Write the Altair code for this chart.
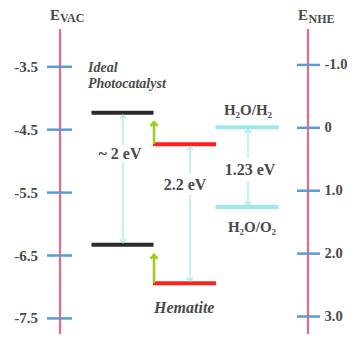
import altair as alt
import pandas as pd

# ---------------- data ----------------
evac_ticks = [-3.5, -4.5, -5.5, -6.5, -7.5]
evac_labels = ["-3.5", "-4.5", "-5.5", "-6.5", "-7.5"]
nhe_ticks = [-1.0, 0.0, 1.0, 2.0, 3.0]
nhe_labels = ["-1.0", "0", "1.0", "2.0", "3.0"]
ideal_levels = [-4.23, -6.33]      # CB, VB (E vs vacuum, eV)
hematite_levels = [-4.73, -6.94]   # CB, VB
water_levels = [-4.46, -5.73]      # H2O/H2, H2O/O2
green_tips = [-4.38, -6.49]        # tips of the green shift arrows
gap_labels = ["~ 2 eV", "2.2 eV", "1.23 eV"]
couple_labels = ["H\u2082O/H\u2082", "H\u2082O/O\u2082"]
name_ideal = ["Ideal", "Photocatalyst"]
name_hematite = "Hematite"

# ---------------- layout helpers ----------------
Y0, K = 192.6, 62.9          # pixel calibration of the energy axis
NHE_OFFSET = 4.47
PAD_TOP = 8                  # view starts at image row 16


def E(py):
    """energy value at a given image pixel row (layout only)"""
    return -5.5 - (py - Y0) / K


FONT = "Liberation Serif"
TXT = "#4a4a4a"
PINK = "#e8688f"
BLUE = "#5b9bd5"
CYAN = "#9beaea"
BLACK = "#2a2a2a"
RED = "#ff1f1f"
GREEN = "#9acd17"

xs = alt.Scale(domain=[8, 347], nice=False, zero=False)
ys = alt.Scale(domain=[E(334), E(8 + PAD_TOP)], nice=False, zero=False)


def enc(**kw):
    out = {}
    for k, v in kw.items():
        if k in ("x", "x2"):
            out[k] = alt.X(v, type="quantitative", scale=xs, axis=None) if k == "x" else alt.X2(v)
        elif k in ("y", "y2"):
            out[k] = alt.Y(v, type="quantitative", scale=ys, axis=None) if k == "y" else alt.Y2(v)
        else:
            out[k] = v
    return out


layers = []

# axis lines
axes_df = pd.DataFrame({"x": [60, 308], "y": [E(29)] * 2, "y2": [E(334)] * 2})
layers.append(alt.Chart(axes_df).mark_rule(color=PINK, strokeWidth=2.2)
              .encode(**enc(x="x", y="y", y2="y2")))

# ticks
tick_rows = [{"x": 47, "x2": 72, "y": v} for v in evac_ticks]
tick_rows += [{"x": 297, "x2": 320, "y": -(v + NHE_OFFSET)} for v in nhe_ticks]
layers.append(alt.Chart(pd.DataFrame(tick_rows)).mark_rule(color=BLUE, strokeWidth=2.5)
              .encode(**enc(x="x", x2="x2", y="y")))

# tick labels
lt = pd.DataFrame({"x": [38] * 5, "y": evac_ticks, "t": evac_labels})
layers.append(alt.Chart(lt).mark_text(font=FONT, fontSize=15, fontWeight="bold", color=TXT,
                                      align="right", baseline="middle")
              .encode(**enc(x="x", y="y"), text="t:N"))
rt = pd.DataFrame({"x": [324.5] * 5, "y": [-(v + NHE_OFFSET) for v in nhe_ticks], "t": nhe_labels})
layers.append(alt.Chart(rt).mark_text(font=FONT, fontSize=14.5, fontWeight="bold", color=TXT,
                                      align="left", baseline="middle")
              .encode(**enc(x="x", y="y"), text="t:N"))

# axis titles
tb = pd.DataFrame({"x": [60, 308], "y": [E(20)] * 2, "t": ["E", "E"]})
layers.append(alt.Chart(tb).mark_text(font=FONT, fontSize=15, fontWeight="bold", color=TXT,
                                      align="right", baseline="alphabetic")
              .encode(**enc(x="x", y="y"), text="t:N"))
ts = pd.DataFrame({"x": [60, 308.5], "y": [E(22), E(22.5)], "t": ["VAC", "NHE"]})
layers.append(alt.Chart(ts).mark_text(font=FONT, fontSize=12, fontWeight="bold", color=TXT,
                                      align="left", baseline="alphabetic")
              .encode(**enc(x="x", y="y"), text="t:N"))

# energy levels
def level_layer(xa, xb, vals, color):
    df = pd.DataFrame({"x": [xa] * len(vals), "x2": [xb] * len(vals), "y": vals})
    return (alt.Chart(df).mark_rule(color=color, strokeWidth=4, strokeCap="butt")
            .encode(**enc(x="x", x2="x2", y="y")))


layers.append(level_layer(91.5, 153.5, ideal_levels, BLACK))
layers.append(level_layer(153, 216, hematite_levels, RED))
layers.append(level_layer(215.5, 278.5, water_levels, CYAN))

# cyan gap arrows (shaft broken around the label)
shafts = []
up_heads = []
down_heads = []
for xa, top, bot, gtop, gbot in [
    (123, ideal_levels[0], ideal_levels[1], 145, 163),
    (190, hematite_levels[0], hematite_levels[1], 174, 195),
    (248, water_levels[0], water_levels[1], 158, 181),
]:
    t = top - 2.2 / K
    b = bot + 2.0 / K
    shafts.append({"x": xa, "y": t, "y2": E(gtop)})
    shafts.append({"x": xa, "y": E(gbot), "y2": b})
    up_heads.append({"x": xa, "y": t})
    down_heads.append({"x": xa, "y": b})
layers.append(alt.Chart(pd.DataFrame(shafts)).mark_rule(color=CYAN, strokeWidth=1.2)
              .encode(**enc(x="x", y="y", y2="y2")))
CHEV = "M -1 1.2 L 0 0 L 1 1.2"
layers.append(alt.Chart(pd.DataFrame(up_heads)).mark_point(shape=CHEV, filled=False, size=36,
                                                           color=CYAN, strokeWidth=1.2, opacity=1)
              .encode(**enc(x="x", y="y")))
layers.append(alt.Chart(pd.DataFrame(down_heads)).mark_point(shape=CHEV, filled=False, size=36, angle=180,
                                                             color=CYAN, strokeWidth=1.2, opacity=1)
              .encode(**enc(x="x", y="y")))

# gap labels
gl = pd.DataFrame({"x": [120, 185, 250], "y": [E(153.5), E(184.5), E(170)], "t": gap_labels})
layers.append(alt.Chart(gl).mark_text(font=FONT, fontSize=16, fontWeight="bold", color=TXT,
                                      align="center", baseline="middle")
              .encode(**enc(x="x", y="y"), text="t:N"))

# green shift arrows
gdf = pd.DataFrame({"x": [154, 154], "y": hematite_levels, "y2": [t - 1.5 / K for t in green_tips]})
layers.append(alt.Chart(gdf).mark_rule(color=GREEN, strokeWidth=2.5, strokeCap="butt")
              .encode(**enc(x="x", y="y", y2="y2")))
ghead = pd.DataFrame({"x": [154, 154], "y": green_tips})
layers.append(alt.Chart(ghead).mark_point(shape="M -1 1.1 L 0 0 L 1 1.1", filled=False, size=49,
                                          color=GREEN, strokeWidth=2.5, opacity=1)
              .encode(**enc(x="x", y="y")))

# couple labels
cl = pd.DataFrame({"x": [248, 252], "y": [E(110), E(227)], "t": couple_labels})
layers.append(alt.Chart(cl).mark_text(font=FONT, fontSize=15, fontWeight="bold", color=TXT,
                                      align="center", baseline="middle")
              .encode(**enc(x="x", y="y"), text="t:N"))

# material names
nl = pd.DataFrame({"x": [88, 88, 154], "y": [E(68), E(84), E(307.5)],
                   "t": name_ideal + [name_hematite]})
layers.append(alt.Chart(nl.iloc[:2]).mark_text(font=FONT, fontSize=14, fontWeight="bold", fontStyle="italic",
                                               color=TXT, align="left", baseline="middle")
              .encode(**enc(x="x", y="y"), text="t:N"))
layers.append(alt.Chart(nl.iloc[2:]).mark_text(font=FONT, fontSize=16, fontWeight="bold", fontStyle="italic",
                                               color=TXT, align="left", baseline="middle")
              .encode(**enc(x="x", y="y"), text="t:N"))

chart = (alt.layer(*layers)
         .properties(width=339, height=326 - PAD_TOP, background="white",
                     padding={"left": 0, "top": PAD_TOP, "right": 0, "bottom": 0},
                     autosize=alt.AutoSizeParams(type="none"))
         .configure_view(strokeWidth=0))

chart.save("out.html", embed_options={"renderer": "svg", "actions": False})
